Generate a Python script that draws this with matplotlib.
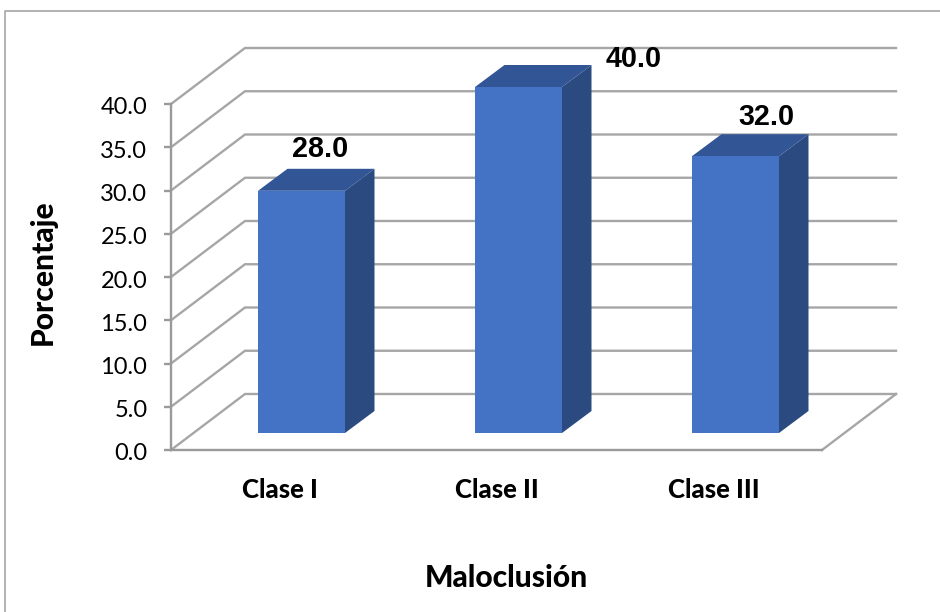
import matplotlib
matplotlib.use("Agg")
import matplotlib.pyplot as plt
from matplotlib.patches import Polygon
from matplotlib.transforms import ScaledTranslation

categories = ["Clase I", "Clase II", "Clase III"]
values = [28.0, 40.0, 32.0]
y_ticks = [0, 5, 10, 15, 20, 25, 30, 35, 40]
label_offsets = [(62, 42), (159, 28), (74, 39)]

W, H = 940, 612
GRID = "#a6a6a6"
AXC = "#9a9a9a"
FRONT, SIDE, TOP = "#4472c4", "#2a4a80", "#325596"
LW = 1.7

fig = plt.figure(figsize=(W / 100, H / 100), dpi=100)
fig.patch.set_facecolor("white")
L, R, B, T = 171, 822, 450, 104
ax = fig.add_axes([L / W, 1 - B / H, (R - L) / W, (B - T) / H])
ax.set_xlim(-0.5, 2.5)
ax.set_ylim(0, 40)
ax.patch.set_alpha(0)
for s in ("top", "right"):
    ax.spines[s].set_visible(False)
for s in ("left", "bottom"):
    ax.spines[s].set_color(AXC)
    ax.spines[s].set_linewidth(LW)
    ax.spines[s].set_zorder(1)

px = 3 / (R - L)   # one pixel in x data units
py = 40 / (B - T)  # one pixel in y data units
wall_dx, wall_dy = 74 * px, 56 * py
depth_dx, depth_dy = 29.5 * px, 22 * py
floor_dx, floor_dy = 22 * px, 17 * py
half = 43.5 * px

for v in y_ticks:
    ax.plot([-0.5, -0.5 + wall_dx, 2.5 + wall_dx],
            [v, v + wall_dy, v + wall_dy], color=GRID, lw=LW, clip_on=False, zorder=1,
            solid_joinstyle="miter")
ax.plot([2.5, 2.5 + wall_dx], [0, wall_dy], color=GRID, lw=LW, clip_on=False, zorder=1)

for i, v in enumerate(values):
    x0, x1 = i + floor_dx - half, i + floor_dx + half
    y0 = floor_dy
    y1 = floor_dy + v
    ax.add_patch(Polygon([(x1, y0), (x1 + depth_dx, y0 + depth_dy),
                          (x1 + depth_dx, y1 + depth_dy), (x1, y1)],
                         fc=SIDE, ec="none", clip_on=False, zorder=3))
    ax.add_patch(Polygon([(x0, y1), (x1, y1), (x1 + depth_dx, y1 + depth_dy),
                          (x0 + depth_dx, y1 + depth_dy)],
                         fc=TOP, ec="none", clip_on=False, zorder=3))
    ax.bar(i + floor_dx, v, width=2 * half, bottom=y0, color=FRONT, clip_on=False, zorder=4)
    ax.annotate(f"{v:.1f}", (x0, y1), xytext=label_offsets[i], textcoords="offset pixels",
                ha="center", va="center", fontsize=20.7, fontweight="bold",
                family="Liberation Sans", color="black", zorder=6,
                annotation_clip=False)

ax.set_xticks(range(3))
ax.set_xticklabels(categories, fontsize=18.5, fontweight=900, family="Lato")
ax.tick_params(axis="x", length=0, pad=20)
ax.set_yticks(y_ticks)
ax.set_yticklabels([f"{v:.1f}" for v in y_ticks], fontsize=17, family="Lato")
ax.tick_params(axis="y", length=5, width=LW, color=AXC, pad=12)
shift = ScaledTranslation(0, -2 / 100, fig.dpi_scale_trans)
for t in ax.get_yticklabels():
    t.set_transform(t.get_transform() + shift)

fig.text(43 / W, 1 - 272 / H, "Porcentaje", rotation=90, ha="center", va="center",
         fontsize=21.5, fontweight=900, family="Lato")
fig.text(506 / W, 1 - 578 / H, "Maloclusión", ha="center", va="center",
         fontsize=21.6, fontweight=900, family="Lato")

border = fig.add_axes([0, 0, 1, 1], zorder=-1)
border.set_xlim(0, W)
border.set_ylim(H, 0)
border.axis("off")
border.plot([5, 5, W], [H, 11, 11], color=GRID, lw=1.2)

fig.savefig("out.png", dpi=100)
